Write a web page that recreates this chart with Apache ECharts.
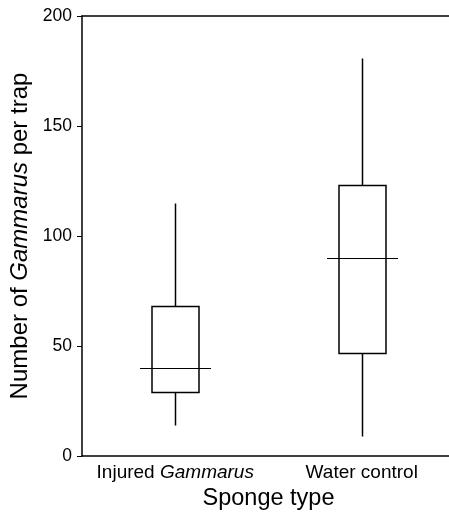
<!DOCTYPE html>
<html>
<head>
<meta charset="utf-8">
<script src="https://cdn.jsdelivr.net/npm/echarts@6/dist/echarts.min.js"></script>
<style>
  html, body { margin: 0; padding: 0; background: #fff; }
  #chart { width: 449px; height: 514px; }
</style>
</head>
<body>
<div id="chart"></div>
<script>
  // 数据
  const categories = ['Injured', 'Water control'];
  const whiskerLow = [14, 9];
  const q1 = [29, 47];
  const median = [40, 90];
  const q3 = [68, 123];
  const whiskerHigh = [115, 181];
  const yTicks = [0, 50, 100, 150, 200];

  const font = "'Liberation Sans', Arial, sans-serif";
  const seriesData = categories.map((c, i) => [i, whiskerLow[i], q1[i], median[i], q3[i], whiskerHigh[i]]);

  // 对齐到像素，线条更清晰
  const px = v => Math.round(v) + 0.5;

  // 箱线图（无须线端帽，中位线比箱体宽）
  function renderBox(params, api) {
    const x = api.value(0);
    const band = api.size([1, 0])[0];
    const boxW = Math.round(band * 0.253);
    const medW = Math.round(band * 0.38);
    const yLow = px(api.coord([x, api.value(1)])[1]);
    const yQ1 = px(api.coord([x, api.value(2)])[1]);
    const yMed = px(api.coord([x, api.value(3)])[1]);
    const yQ3 = px(api.coord([x, api.value(4)])[1]);
    const yHigh = px(api.coord([x, api.value(5)])[1]);
    const cx = px(api.coord([x, 0])[0]);
    const lineStyle = { stroke: '#000', lineWidth: 1.5, fill: 'none' };
    return {
      type: 'group',
      children: [
        { type: 'line', shape: { x1: cx, y1: yHigh, x2: cx, y2: yQ3 }, style: lineStyle },
        { type: 'line', shape: { x1: cx, y1: yQ1, x2: cx, y2: yLow }, style: lineStyle },
        { type: 'rect', shape: { x: cx - boxW / 2, y: yQ3, width: boxW, height: yQ1 - yQ3 }, style: lineStyle },
        { type: 'line', shape: { x1: cx - medW / 2, y1: yMed, x2: cx + medW / 2, y2: yMed }, style: { stroke: '#000', lineWidth: 1 } }
      ]
    };
  }

  const chart = echarts.init(document.getElementById('chart'));
  const option = {
    animation: false,
    grid: { left: 82, top: 16, width: 373, bottom: 58, outerBoundsMode: 'none', containLabel: false },
    xAxis: [{
      type: 'category',
      data: categories,
      boundaryGap: true,
      name: 'Sponge type',
      nameLocation: 'middle',
      nameGap: 30,
      nameTextStyle: { fontFamily: font, fontSize: 23.5, color: '#000' },
      axisLine: { lineStyle: { color: '#000', width: 1.5 } },
      axisTick: { show: false },
      axisLabel: {
        interval: 0,
        margin: 7,
        fontFamily: font,
        fontSize: 19,
        color: '#000',
        formatter: function (v) {
          return v === 'Injured' ? '{n|Injured }{i|Gammarus}' : '{n|' + v + '}';
        },
        rich: {
          n: { fontFamily: font, fontSize: 19, color: '#000' },
          i: { fontFamily: font, fontSize: 19, fontStyle: 'italic', color: '#000' }
        }
      }
    }, {
      type: 'category',
      data: categories,
      position: 'top',
      axisLine: { lineStyle: { color: '#000', width: 1.5 } },
      axisTick: { show: false },
      axisLabel: { show: false }
    }],
    yAxis: {
      type: 'value',
      min: 0,
      max: 200,
      interval: 50,
      name: '{n|Number of }{i|Gammarus}{n| per trap}',
      nameLocation: 'middle',
      nameGap: 48,
      nameTextStyle: {
        rich: {
          n: { fontFamily: font, fontSize: 24, color: '#000' },
          i: { fontFamily: font, fontSize: 24, fontStyle: 'italic', color: '#000' }
        }
      },
      axisLine: { show: true, lineStyle: { color: '#000', width: 1.5 } },
      axisTick: { show: true, length: 5, lineStyle: { color: '#000' } },
      axisLabel: { margin: 10, fontFamily: font, fontSize: 17.5, color: '#000' },
      splitLine: { show: false }
    },
    series: [{
      type: 'custom',
      renderItem: renderBox,
      encode: { x: 0, y: [1, 2, 3, 4, 5] },
      data: seriesData
    }]
  };
  chart.setOption(option);
</script>
</body>
</html>
